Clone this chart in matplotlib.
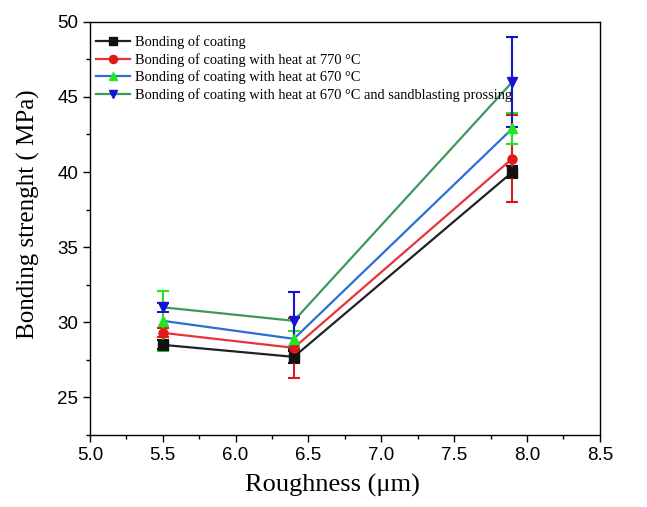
import numpy as np
import matplotlib
matplotlib.use("Agg")
import matplotlib.pyplot as plt
from matplotlib.ticker import MultipleLocator

# data
roughness = [5.5, 6.4, 7.9]
labels = ["Bonding of coating",
          "Bonding of coating with heat at 770 °C",
          "Bonding of coating with heat at 670 °C",
          "Bonding of coating with heat at 670 °C and sandblasting prossing"]
bond_plain = [28.5, 27.7, 40.0]
bond_770 = [29.3, 28.3, 40.9]
bond_670 = [30.1, 28.9, 42.9]
bond_670_sb = [31.0, 30.1, 46.0]
err_plain = [0.3, 0.4, 0.4]
err_770 = [0.3, 2.0, 2.9]
err_670 = [2.0, 0.5, 1.0]
err_670_sb = [0.3, 1.9, 3.0]

series = [bond_plain, bond_770, bond_670, bond_670_sb]
errors = [err_plain, err_770, err_670, err_670_sb]
line_colors = ["#222222", "#e8323c", "#2a6fd6", "#3a9a5c"]
marker_colors = ["#111111", "#e01818", "#22e622", "#1414d2"]
markers = ["s", "o", "^", "v"]

fig = plt.figure(figsize=(6.47, 5.07), dpi=100)
ax = fig.add_axes([0.139, 0.142, 0.788, 0.815])

for y, e, lc, mc, m, lab in zip(series, errors, line_colors, marker_colors, markers, labels):
    ax.errorbar(roughness, y, yerr=e, fmt="none", ecolor=mc, elinewidth=1.5,
                capsize=4.5, capthick=1.5, zorder=2)
    ax.plot(roughness, y, color=lc, lw=1.6, marker=m, ms=6.5, mfc=mc, mec=mc,
            label=lab, zorder=3)

ax.set_xlim(5.0, 8.5)
ax.set_ylim(22.5, 50)
ax.xaxis.set_major_locator(MultipleLocator(0.5))
ax.xaxis.set_minor_locator(MultipleLocator(0.25))
ax.yaxis.set_major_locator(MultipleLocator(5))
ax.yaxis.set_minor_locator(MultipleLocator(2.5))
ax.tick_params(which="both", direction="out", top=False, right=False)
ax.tick_params(which="major", length=5, width=1, labelsize=13.5)
ax.tick_params(which="minor", length=3, width=1)
for t in ax.get_xticklabels() + ax.get_yticklabels():
    t.set_fontfamily("Liberation Sans")
for s in ax.spines.values():
    s.set_linewidth(1.0)

ax.set_xlabel("Roughness (μm)", fontsize=19, fontfamily="Liberation Serif", labelpad=8)
ax.set_ylabel("Bonding strenght ( MPa)", fontsize=18, fontfamily="Liberation Serif", labelpad=8)
ax.xaxis.set_label_coords(0.476, -0.095)
ax.yaxis.set_label_coords(-0.097, 0.535)

ax.legend(loc="upper left", bbox_to_anchor=(0.0, 0.982), frameon=False,
          prop={"family": "Liberation Serif", "size": 10.4},
          handlelength=2.4, handletextpad=0.3, labelspacing=0.28, markerscale=0.9,
          borderaxespad=0.0, borderpad=0.4)

fig.savefig("out.png", dpi=100)
